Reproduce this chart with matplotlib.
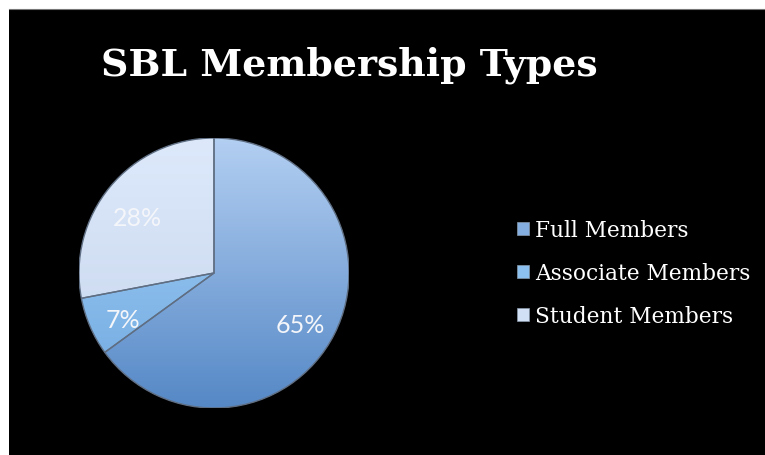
import numpy as np
import matplotlib
matplotlib.use("Agg")
import matplotlib.pyplot as plt
from matplotlib.patches import Rectangle, Wedge
from matplotlib.colors import LinearSegmentedColormap
import matplotlib.transforms as mtransforms

# ---- data ----
categories = ["Full Members", "Associate Members", "Student Members"]
shares = [65, 7, 28]
title = "SBL Membership Types"

# ---- style ----
top_colors = ["#B3CFF2", "#A6D2F7", "#DDE9FB"]
bottom_colors = ["#5588C6", "#6FA8E0", "#C6D5EC"]
base_colors = ["#84AEE0", "#8CC0EE", "#D2E0F6"]

W, H = 765, 456
fig = plt.figure(figsize=(W / 100, H / 100), dpi=100, facecolor="white")
fig.add_artist(Rectangle((9 / W, -0.02), 1.05 - 9 / W, 1.02 - 10 / H, transform=fig.transFigure,
                         facecolor="black", edgecolor="none", zorder=0))
fig.add_artist(plt.Line2D([9 / W, 1], [1 - 10 / H, 1 - 10 / H], transform=fig.transFigure,
                          color="#777777", linewidth=0.8, zorder=0.5))

cx, cy, r = 214, 274, 135
ax = fig.add_axes([(cx - r) / W, (H - cy - r) / H, 2 * r / W, 2 * r / H])
ax.set_facecolor("none")
wedges, texts, autotexts = ax.pie(
    shares, colors=base_colors, startangle=90, counterclock=False,
    autopct="%d%%", pctdistance=0.73, radius=1,
    wedgeprops=dict(linewidth=0, edgecolor="none"),
    textprops=dict(color="#F4F6FA", fontsize=18, family=["Lato", "DejaVu Sans"]),
    frame=False)

grad = np.linspace(0, 1, 256).reshape(-1, 1)
for w, ct, cb in zip(wedges, top_colors, bottom_colors):
    cmap = LinearSegmentedColormap.from_list("g", [cb, ct])
    im = ax.imshow(grad, extent=[-1, 1, -1, 1], origin="lower", cmap=cmap,
                   aspect="auto", zorder=1.5, interpolation="bilinear")
    im.set_clip_path(w)
    ax.add_patch(Wedge(w.center, w.r, w.theta1, w.theta2, fill=False,
                       edgecolor="#5F6E82", linewidth=1.0, zorder=2))
shift = mtransforms.ScaledTranslation(-1 / 100, -7 / 100, fig.dpi_scale_trans)
for t in autotexts:
    t.set_zorder(3)
    t.set_transform(t.get_transform() + shift)
ax.set_xlim(-1, 1)
ax.set_ylim(-1, 1)
ax.set_aspect("auto")
ax.axis("off")

fig.text(349.5 / W, 1 - 75 / H, title, ha="center", va="baseline",
         color="white", fontsize=27.3, fontweight="bold", family="DejaVu Serif")

leg = fig.legend(wedges, categories, loc="upper left",
                 bbox_to_anchor=(517 / W, 1 - 220 / H), frameon=False,
                 prop=dict(family="DejaVu Serif", size=15.6),
                 labelcolor="white", handlelength=0.55, handleheight=0.55,
                 handletextpad=0.3, labelspacing=0.97, borderpad=0, borderaxespad=0)
for h in leg.legend_handles:
    h.set_edgecolor("#8899AA")
    h.set_linewidth(0.5)

fig.savefig("out.png", dpi=100, facecolor="white")
